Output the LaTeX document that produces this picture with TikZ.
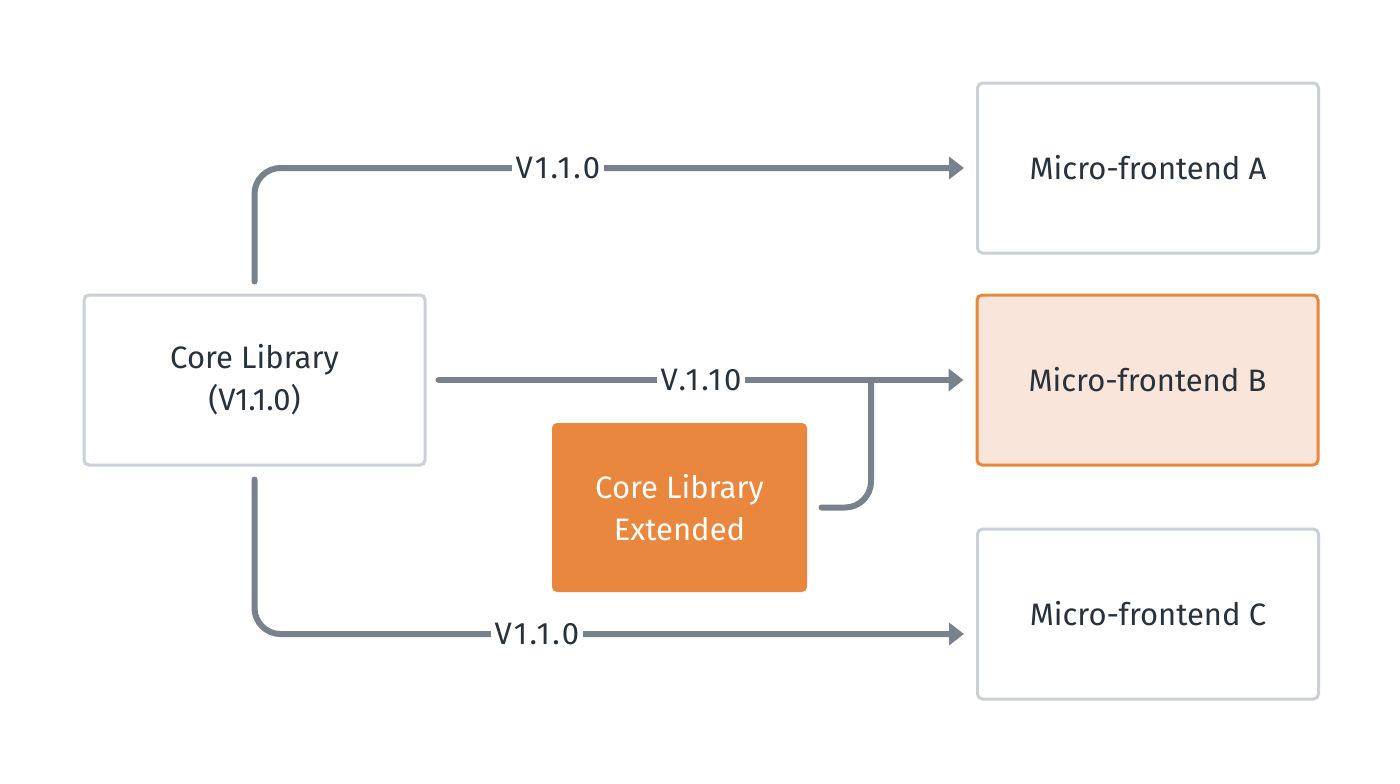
\documentclass[tikz,border=0pt]{standalone}
\usepackage{fontspec}
\setmainfont{Fira Sans}
\newfontfamily\lblfont[LetterSpace=8]{Fira Sans}
\usetikzlibrary{arrows.meta,positioning}
\definecolor{linegray}{HTML}{78828C}
\definecolor{boxgray}{HTML}{CBD0D6}
\definecolor{txt}{HTML}{27323C}
\definecolor{orng}{HTML}{E8873D}
\definecolor{lightorng}{HTML}{FAE5DA}
\tikzset{
  box/.style={draw=boxgray, line width=1.5pt, rounded corners=2.5pt, fill=white,
    minimum width=170.5pt, minimum height=85pt, text=txt, align=center,
    font=\fontsize{15.5}{21}\selectfont},
  hibox/.style={box, draw=orng, fill=lightorng},
  extbox/.style={box, draw=none, fill=orng, text=white, minimum width=127.5pt, minimum height=84.5pt},
  conn/.style={draw=linegray, line width=3pt, line cap=round, rounded corners=13pt},
  arr/.style={-{Triangle[length=7.5pt,width=11pt]}},
  lbl/.style={fill=white, text=txt, inner xsep=2pt, inner ysep=1pt, font=\lblfont\fontsize{15.5}{18}\selectfont}
}
\begin{document}
\begin{tikzpicture}[x=0.5pt,y=-0.5pt]
\useasboundingbox (0,0) rectangle (1400,783);
\node[box] (core) at (254.5,380) {Core Library\\(V1.1.0)};
\node[box] (mfa) at (1148,168) {Micro-frontend A};
\node[hibox] (mfb) at (1147.5,380) {Micro-frontend B};
\node[box] (mfc) at (1148,614) {Micro-frontend C};
\node[extbox] (ext) at (679.5,507.5) {Core Library\\Extended};
\coordinate (join) at (871,380);
\draw[conn,arr] ([yshift=6pt]core.north) |- ([xshift=-6pt]mfa.west);
\draw[conn,arr] ([xshift=6pt]core.east) -- ([xshift=-6pt]mfb.west);
\draw[conn] ([xshift=6.5pt]ext.east) -| (join);
\draw[conn,arr] ([yshift=-6.5pt]core.south) |- ([xshift=-6pt,yshift=-10pt]mfc.west);
\node[lbl] (l1) at (558,168) {V1.1.0};
\node[lbl] (l2) at (701,380) {V.1.10};
\node[lbl] (l3) at (537,634) {V1.1.0};
\end{tikzpicture}
\end{document}
